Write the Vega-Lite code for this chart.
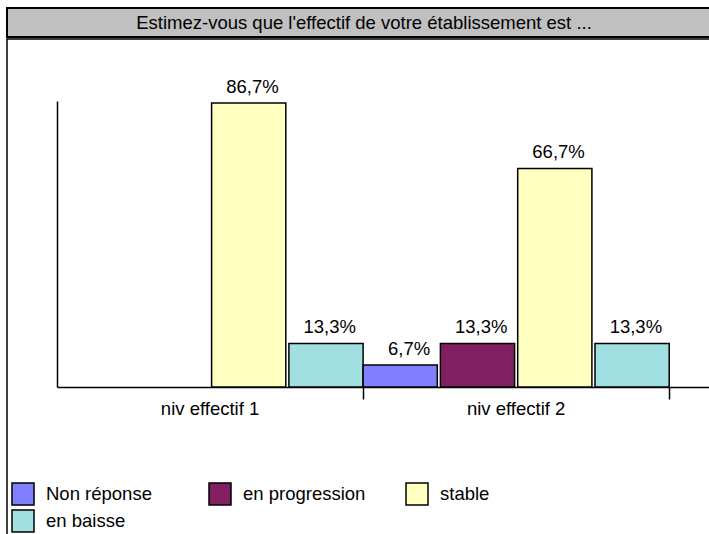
{
  "$schema": "https://vega.github.io/schema/vega-lite/v6.json",
  "autosize": {"type": "none"},
  "padding": {"left": 7, "top": 8, "right": 702, "bottom": 526},
  "background": "white",
  "spacing": 0,
  "config": {
    "font": "Liberation Sans",
    "locale": {"number": {"decimal": ",", "thousands": " ", "grouping": [3], "currency": ["", " €"]}}
  },
  "vconcat": [
    {
      "width": 714,
      "height": 29,
      "view": {"fill": "#c0c0c0", "stroke": "black", "strokeWidth": 2},
      "data": {"values": [{"t": "Estimez-vous que l'effectif de votre établissement est ..."}]},
      "mark": {"type": "text", "fontSize": 18.5, "color": "black", "font": "Liberation Sans"},
      "encoding": {"text": {"field": "t", "type": "nominal"}}
    },
    {
      "width": 714,
      "height": 520,
      "view": {"fill": "white", "stroke": "black", "strokeWidth": 1.5},
      "data": {
        "values": [
          {"niveau": "niv effectif 1", "serie": "stable", "valeur": 0.867},
          {"niveau": "niv effectif 1", "serie": "en baisse", "valeur": 0.133},
          {"niveau": "niv effectif 2", "serie": "Non réponse", "valeur": 0.067},
          {"niveau": "niv effectif 2", "serie": "en progression", "valeur": 0.133},
          {"niveau": "niv effectif 2", "serie": "stable", "valeur": 0.667},
          {"niveau": "niv effectif 2", "serie": "en baisse", "valeur": 0.133}
        ]
      },
      "encoding": {
        "x": {
          "field": "niveau",
          "type": "nominal",
          "sort": ["niv effectif 1", "niv effectif 2"],
          "scale": {"range": [50, 702], "paddingInner": 0, "paddingOuter": 0.065, "align": 0},
          "axis": {
            "title": null,
            "domainColor": "black",
            "domainWidth": 1.5,
            "tickColor": "black",
            "tickWidth": 1.5,
            "tickSize": 12,
            "bandPosition": 1,
            "labelFontSize": 18.5,
            "labelColor": "black",
            "labelPadding": 0,
            "labelAngle": 0,
            "offset": -172,
            "grid": false
          }
        },
        "xOffset": {
          "field": "serie",
          "type": "nominal",
          "scale": {"domain": ["Non réponse", "en progression", "stable", "en baisse"], "paddingInner": 0.04, "paddingOuter": 0}
        },
        "y": {
          "field": "valeur",
          "type": "quantitative",
          "scale": {"domain": [0, 0.873], "range": [348, 62], "nice": false, "zero": true},
          "axis": {
            "title": null,
            "labels": false,
            "ticks": false,
            "grid": false,
            "domainColor": "black",
            "domainWidth": 1.5,
            "offset": -50
          }
        }
      },
      "layer": [
        {
          "mark": {"type": "bar", "stroke": "black", "strokeWidth": 1.5},
          "encoding": {
            "color": {
              "field": "serie",
              "type": "nominal",
              "scale": {
                "domain": ["Non réponse", "en progression", "stable", "en baisse"],
                "range": ["#8080FF", "#802060", "#FFFFC0", "#A0E0E0"]
              },
              "legend": {
                "orient": "none",
                "legendX": 4,
                "legendY": 474,
                "direction": "horizontal",
                "columns": 3,
                "gridAlign": "all",
                "title": null,
                "symbolType": "square",
                "symbolSize": 484,
                "symbolStrokeColor": "black",
                "symbolStrokeWidth": 1.5,
                "symbolOpacity": 1,
                "labelFontSize": 18.5,
                "labelColor": "black",
                "labelOffset": 11,
                "columnPadding": 37,
                "rowPadding": -1
              }
            }
          }
        },
        {
          "mark": {"type": "text", "fontSize": 18.5, "baseline": "alphabetic", "align": "right", "dx": 30, "dy": -10, "color": "black"},
          "encoding": {"text": {"field": "valeur", "type": "quantitative", "format": ".1%"}}
        }
      ]
    }
  ]
}
